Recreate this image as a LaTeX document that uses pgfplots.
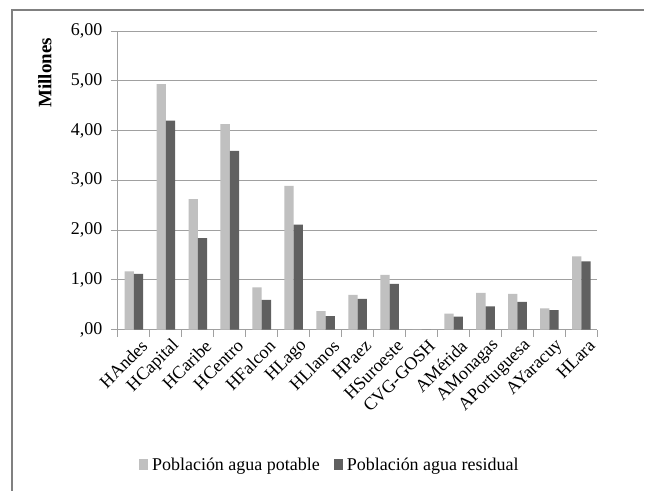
\documentclass[border=0pt]{standalone}
\usepackage{fontspec}
\setmainfont{Liberation Serif}
\usepackage{pgfplots}
\pgfplotsset{compat=1.18}
\definecolor{lightbar}{RGB}{192,192,192}
\definecolor{darkbar}{RGB}{96,96,96}
\definecolor{gridc}{RGB}{160,160,160}
\definecolor{framec}{RGB}{128,128,128}
\begin{document}
\begin{tikzpicture}[x=1pt,y=1pt]
\path[fill=white] (0,0) rectangle (645,491);
\draw[draw=framec, line width=1.3pt] (12,0) -- (12,481) -- (645,481);
\begin{axis}[
  at={(118pt,161pt)}, anchor=south west,
  scale only axis, width=480pt, height=299pt,
  ymin=0, ymax=6,
  xmin=-0.5, xmax=14.5,
  ybar=0pt, bar width=9.3pt,
  ytick={0,1,2,3,4,5,6},
  yticklabels={{,00},{1,00},{2,00},{3,00},{4,00},{5,00},{6,00}},
  xtick={0,...,14},
  xticklabels={HAndes,HCapital,HCaribe,HCentro,HFalcon,HLago,HLlanos,HPaez,HSuroeste,CVG-GOSH,AMérida,AMonagas,APortuguesa,AYaracuy,HLara},
  x tick label style={rotate=45, anchor=east, inner sep=0pt, xshift=3pt, yshift=-12pt, font=\fontsize{18}{20}\selectfont},
  y tick label style={font=\fontsize{18}{20}\selectfont, xshift=-5pt},
  major x tick style={draw=none},
  minor xtick={-0.5,0.5,...,14.5},
  minor x tick style={draw=gridc, line width=0.8pt},
  minor tick length=7pt,
  tick align=outside,
  major y tick style={draw=gridc, line width=0.8pt},
  major tick length=7pt,
  ymajorgrids,
  grid style={draw=gridc, line width=0.9pt},
  axis x line*=bottom, axis y line*=left,
  axis line style={draw=gridc, line width=0.9pt, -},
  ylabel={\textbf{Millones}},
  ylabel style={at={(axis description cs:-0.152,0.86)}, anchor=center, font=\fontsize{19}{21}\selectfont},
  legend style={at={(axis description cs:0.442,-0.452)}, anchor=center, draw=none, fill=none, legend columns=2, font=\fontsize{18}{20}\selectfont, /tikz/every odd column/.append style={column sep=2pt}, /tikz/every even column/.append style={column sep=12pt}},
  legend image code/.code={\fill[#1] (0pt,-5pt) rectangle (9pt,6pt);},
]
\addplot[fill=lightbar, draw=none] coordinates {(0,1.17) (1,4.93) (2,2.62) (3,4.13) (4,0.85) (5,2.89) (6,0.37) (7,0.70) (8,1.10) (9,0) (10,0.32) (11,0.74) (12,0.72) (13,0.43) (14,1.47)};
\addplot[fill=darkbar, draw=none] coordinates {(0,1.12) (1,4.20) (2,1.84) (3,3.59) (4,0.60) (5,2.11) (6,0.27) (7,0.62) (8,0.92) (9,0) (10,0.26) (11,0.47) (12,0.56) (13,0.39) (14,1.37)};
\legend{Población agua potable, Población agua residual}
\end{axis}
\end{tikzpicture}
\end{document}
